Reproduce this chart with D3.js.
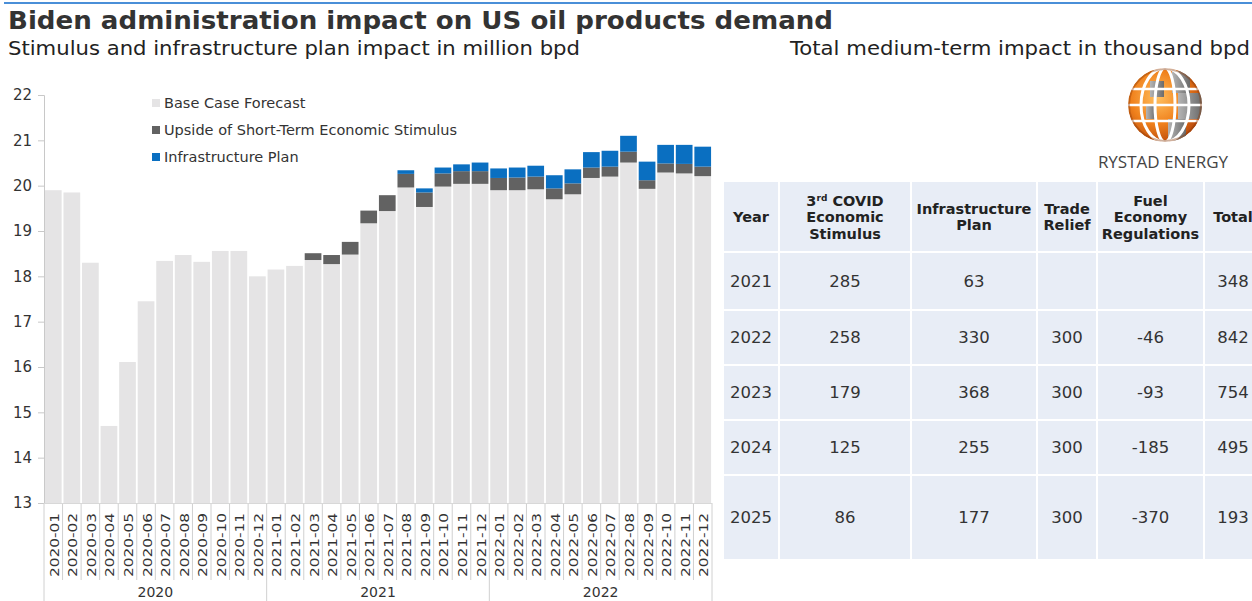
<!DOCTYPE html>
<html>
<head>
<meta charset="utf-8">
<script src="https://cdn.jsdelivr.net/npm/d3@7"></script>
<style>
  html, body { margin: 0; padding: 0; background: #fff; }
  svg { display: block; font-family: Verdana, "DejaVu Sans", sans-serif; }
</style>
</head>
<body>
<svg id="chart" width="1252" height="601"></svg>
<script>
// Monthly US oil products demand, million bpd
const months = [
  "2020-01","2020-02","2020-03","2020-04","2020-05","2020-06","2020-07","2020-08","2020-09","2020-10","2020-11","2020-12",
  "2021-01","2021-02","2021-03","2021-04","2021-05","2021-06","2021-07","2021-08","2021-09","2021-10","2021-11","2021-12",
  "2022-01","2022-02","2022-03","2022-04","2022-05","2022-06","2022-07","2022-08","2022-09","2022-10","2022-11","2022-12"
];
const baseCase = [
  19.90,19.85,18.30,14.70,16.11,17.45,18.34,18.47,18.32,18.56,18.56,18.00,
  18.15,18.23,18.36,18.27,18.48,19.17,19.44,19.96,19.53,19.98,20.04,20.04,
  19.90,19.90,19.92,19.70,19.81,20.17,20.20,20.51,19.93,20.29,20.27,20.21
];
const stimulusUpside = [
  0,0,0,0,0,0,0,0,0,0,0,0,
  0,0,0.15,0.20,0.28,0.28,0.35,0.30,0.32,0.29,0.28,0.28,
  0.27,0.28,0.28,0.24,0.24,0.23,0.22,0.24,0.19,0.20,0.21,0.21
];
const infrastructurePlan = [
  0,0,0,0,0,0,0,0,0,0,0,0,
  0,0,0,0,0,0,0,0.08,0.09,0.13,0.15,0.19,
  0.21,0.22,0.24,0.29,0.31,0.34,0.35,0.35,0.41,0.41,0.42,0.44
];
const years = ["2020","2021","2022"];
const yTicks = [13,14,15,16,17,18,19,20,21,22];
const seriesNames = ["Base Case Forecast","Upside of Short-Term Economic Stimulus","Infrastructure Plan"];
const seriesColors = ["#e5e4e5","#626262","#0a6fc1"];

// Medium-term impact table, thousand bpd
const tableYears = ["2021","2022","2023","2024","2025"];
const covidStimulus = [285,258,179,125,86];
const infraPlan = [63,330,368,255,177];
const tradeRelief = [null,300,300,300,300];
const fuelEconomy = [null,-46,-93,-185,-370];
const totalImpact = [348,842,754,495,193];

const svg = d3.select("#chart");

// Header rule and titles
svg.append("line").attr("x1",4).attr("x2",1252).attr("y1",3).attr("y2",3)
  .attr("stroke","#4a8fd8").attr("stroke-width",2);
svg.append("text").attr("x",8).attr("y",29)
  .attr("font-size",25).attr("font-weight","bold").attr("fill","#333")
  .attr("textLength",825).attr("lengthAdjust","spacingAndGlyphs")
  .text("Biden administration impact on US oil products demand");
svg.append("text").attr("x",8).attr("y",55)
  .attr("font-size",19).attr("fill","#222")
  .attr("textLength",572).attr("lengthAdjust","spacingAndGlyphs")
  .text("Stimulus and infrastructure plan impact in million bpd");
svg.append("text").attr("x",790).attr("y",55)
  .attr("font-size",19).attr("fill","#222")
  .attr("textLength",460).attr("lengthAdjust","spacingAndGlyphs")
  .text("Total medium-term impact in thousand bpd");

// Scales
const x = d3.scaleBand().domain(months).range([44, 712]).paddingInner(0.1).paddingOuter(0.05);
const y = d3.scaleLinear().domain([13, 22]).range([503, 95]);

// Y axis
const yAxis = svg.append("g").attr("transform","translate(44,0)")
  .call(d3.axisLeft(y).tickValues(yTicks).tickSize(6).tickPadding(6).tickFormat(d3.format("d")));
yAxis.select(".domain").attr("stroke","#c8c8c8");
yAxis.selectAll(".tick line").attr("stroke","#c8c8c8");
yAxis.selectAll(".tick text").attr("font-size",15).attr("fill","#333")
  .attr("font-family","Verdana, 'DejaVu Sans', sans-serif");

// Stacked bars
const rows = months.map((m,i) => ({month:m, base:baseCase[i], stim:stimulusUpside[i], infra:infrastructurePlan[i]}));
const stack = d3.stack().keys(["base","stim","infra"]);
const layers = stack(rows);
const plot = svg.append("g");
layers.forEach((layer, li) => {
  plot.append("g").selectAll("rect")
    .data(layer.filter(d => d[1] - d[0] > 0))
    .join("rect")
    .attr("x", d => x(d.data.month))
    .attr("width", x.bandwidth())
    .attr("y", d => y(d[1]))
    .attr("height", d => li === 0 ? y(13) - y(d[1]) : y(d[0]) - y(d[1]))
    .attr("fill", seriesColors[li]);
});

// Category axis: separators, rotated month labels, year groups
const step = x.step();
const catG = svg.append("g");
months.forEach((m,i) => {
  const bx = 44 + i*step;
  const isGroup = i % 12 === 0;
  catG.append("line").attr("x1",bx).attr("x2",bx).attr("y1",503).attr("y2", isGroup ? 601 : 580)
    .attr("stroke","#d0d0d0").attr("stroke-width",1);
});
catG.append("line").attr("x1",712).attr("x2",712).attr("y1",503).attr("y2",601)
  .attr("stroke","#d0d0d0");
catG.append("line").attr("x1",44).attr("x2",712).attr("y1",503.5).attr("y2",503.5)
  .attr("stroke","#d8d8d8");
catG.selectAll("text.month").data(months).join("text")
  .attr("class","month")
  .attr("transform", d => `translate(${x(d) + x.bandwidth()/2 + 1},513) rotate(-90)`)
  .attr("text-anchor","end").attr("dy","0.36em")
  .attr("font-size",12.5).attr("fill","#333")
  .attr("textLength",64).attr("lengthAdjust","spacingAndGlyphs")
  .text(d => d);
catG.selectAll("text.year").data(years).join("text")
  .attr("class","year")
  .attr("x", (d,i) => 44 + (i*12 + 6)*step)
  .attr("y", 597)
  .attr("text-anchor","middle").attr("font-size",14).attr("fill","#333")
  .text(d => d);

// Legend
const legend = svg.append("g");
seriesNames.forEach((name,i) => {
  const ly = 103 + i*27;
  legend.append("rect").attr("x",152).attr("y",ly-4).attr("width",8).attr("height",8).attr("fill",seriesColors[i]);
  legend.append("text").attr("x",164).attr("y",ly).attr("dy","0.35em")
    .attr("font-size",14.5).attr("fill","#333").text(name);
});

// Table
const colEdges = [723, 779, 911, 1037, 1097, 1204, 1262];
const rowEdges = [181, 252, 310, 365, 420, 475, 560];
const table = svg.append("g");
for (let r = 0; r < rowEdges.length-1; r++) {
  for (let c = 0; c < colEdges.length-1; c++) {
    table.append("rect")
      .attr("x", colEdges[c]).attr("y", rowEdges[r])
      .attr("width", colEdges[c+1]-colEdges[c]).attr("height", rowEdges[r+1]-rowEdges[r])
      .attr("fill","#e8edf6").attr("stroke","#ffffff").attr("stroke-width",2);
  }
}
const colCenter = c => (colEdges[c] + colEdges[c+1]) / 2;
const headers = [
  [["Year"]],
  [["3", "rd", " COVID"], ["Economic"], ["Stimulus"]],
  [["Infrastructure"], ["Plan"]],
  [["Trade"], ["Relief"]],
  [["Fuel"], ["Economy"], ["Regulations"]],
  [["Total"]]
];
headers.forEach((lines, c) => {
  const n = lines.length;
  const y0 = 217 - (n-1)*16.5/2;
  lines.forEach((parts, li) => {
    const t = table.append("text").attr("x", colCenter(c)).attr("y", y0 + li*16.5).attr("dy","0.35em")
      .attr("text-anchor","middle").attr("font-size",14.5).attr("font-weight","bold").attr("fill","#222");
    if (parts.length === 3) {
      t.append("tspan").text(parts[0]);
      t.append("tspan").attr("font-size",9).attr("dy","-0.5em").text(parts[1]);
      t.append("tspan").attr("dy","0.32em").text(parts[2]);
    } else {
      t.text(parts[0]);
    }
  });
});
const bodyCols = [tableYears, covidStimulus, infraPlan, tradeRelief, fuelEconomy, totalImpact];
tableYears.forEach((yr, r) => {
  const cy = (rowEdges[r+1] + rowEdges[r+2]) / 2;
  bodyCols.forEach((col, c) => {
    const v = col[r];
    if (v === null || v === undefined) return;
    table.append("text").attr("x", colCenter(c)).attr("y", cy).attr("dy","0.35em")
      .attr("text-anchor","middle").attr("font-size",16.5).attr("fill","#333").text(v);
  });
});

// Logo
const defs = svg.append("defs");
const og = defs.append("radialGradient").attr("id","globeOrange").attr("cx","40%").attr("cy","40%").attr("r","65%");
og.append("stop").attr("offset","0%").attr("stop-color","#ffc060");
og.append("stop").attr("offset","55%").attr("stop-color","#f0811c");
og.append("stop").attr("offset","100%").attr("stop-color","#b8480c");
const gg = defs.append("linearGradient").attr("id","globeGray").attr("x1","0").attr("x2","1").attr("y1","0").attr("y2","0");
gg.append("stop").attr("offset","0%").attr("stop-color","#b5b5b5");
gg.append("stop").attr("offset","100%").attr("stop-color","#6a6a6a");
defs.append("clipPath").attr("id","globeClip").append("circle").attr("cx",1165).attr("cy",105).attr("r",37);
const logo = svg.append("g");
const globe = logo.append("g").attr("clip-path","url(#globeClip)");
globe.append("circle").attr("cx",1165).attr("cy",105).attr("r",37).attr("fill","url(#globeOrange)");
[[1150,81,14,16],[1172,71,18,22],[1178,93,24,26],[1168,119,18,22],[1146,105,10,14]].forEach(p => {
  globe.append("rect").attr("x",p[0]).attr("y",p[1]).attr("width",p[2]).attr("height",p[3]).attr("fill","url(#globeGray)");
});
[10, 24].forEach(rx => {
  globe.append("ellipse").attr("cx",1165).attr("cy",105).attr("rx",rx).attr("ry",37)
    .attr("fill","none").attr("stroke","#fff").attr("stroke-width",3);
});
[89, 105, 121].forEach(ly => {
  globe.append("line").attr("x1",1128).attr("x2",1202).attr("y1",ly).attr("y2",ly)
    .attr("stroke","#fff").attr("stroke-width",2.5);
});
globe.append("circle").attr("cx",1165).attr("cy",105).attr("r",36).attr("fill","none")
  .attr("stroke","#8a3a08").attr("stroke-opacity",0.4).attr("stroke-width",2);
logo.append("text").attr("x",1163).attr("y",168).attr("text-anchor","middle")
  .attr("font-family","'Open Sans', 'DejaVu Sans', sans-serif")
  .attr("font-size",17).attr("fill","#444").text("RYSTAD ENERGY");
</script>
</body>
</html>
